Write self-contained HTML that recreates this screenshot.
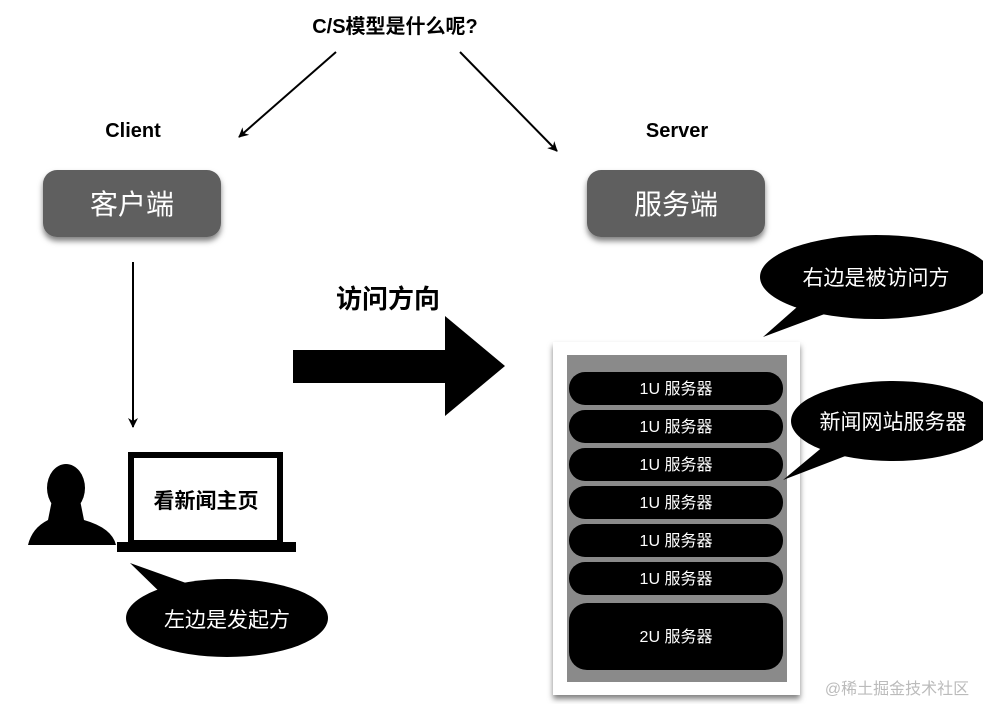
<!DOCTYPE html>
<html><head><meta charset="utf-8"><style>
html,body{margin:0;padding:0;background:#fff;}
svg text{font-family:"Liberation Sans","Noto Sans CJK SC",sans-serif;}
</style></head><body>
<svg width="983" height="704" viewBox="0 0 983 704" xmlns="http://www.w3.org/2000/svg">
<defs>
<filter id="sh" x="-20%" y="-20%" width="140%" height="160%"><feDropShadow dx="0" dy="4" stdDeviation="3" flood-color="#000" flood-opacity="0.5"/></filter>
<marker id="ah" markerWidth="10" markerHeight="10" refX="9" refY="5" orient="auto" markerUnits="userSpaceOnUse"><path d="M0,0 L10,5 L0,10 L3,5 z" fill="#000"/></marker>
</defs>
<text x="395" y="33" font-size="20" font-weight="bold" text-anchor="middle">C/S模型是什么呢?</text>
<line x1="336" y1="52" x2="239" y2="137" stroke="#000" stroke-width="2" marker-end="url(#ah)"/>
<line x1="460" y1="52" x2="557" y2="151" stroke="#000" stroke-width="2" marker-end="url(#ah)"/>
<text x="133" y="137" font-size="20" font-weight="bold" text-anchor="middle">Client</text>
<text x="677" y="137" font-size="20" font-weight="bold" text-anchor="middle">Server</text>
<rect x="43" y="170" width="178" height="67" rx="14" fill="#5f5f5f" filter="url(#sh)"/>
<text x="132" y="214" font-size="28" fill="#fff" text-anchor="middle">客户端</text>
<rect x="587" y="170" width="178" height="67" rx="14" fill="#5f5f5f" filter="url(#sh)"/>
<text x="676" y="214" font-size="28" fill="#fff" text-anchor="middle">服务端</text>
<line x1="133" y1="262" x2="133" y2="427" stroke="#000" stroke-width="2" marker-end="url(#ah)"/>
<text x="388" y="308" font-size="26" font-weight="bold" text-anchor="middle">访问方向</text>
<polygon points="293,350 445,350 445,316 505,366 445,416 445,383 293,383" fill="#000"/>
<!-- person -->
<ellipse cx="66" cy="488" rx="19" ry="24" fill="#000"/>
<path d="M52,500 L80,500 L84,520 Q112,528 116,545 L28,545 Q32,528 48,520 z" fill="#000"/>
<!-- laptop -->
<rect x="131" y="455" width="149" height="88" fill="none" stroke="#000" stroke-width="6"/>
<rect x="117" y="542" width="179" height="10" fill="#000"/>
<text x="206" y="508" font-size="21" font-weight="bold" text-anchor="middle">看新闻主页</text>
<!-- left bubble -->
<path d="M130,563 L200,588 L170,602 z" fill="#000"/>
<ellipse cx="227" cy="618" rx="101" ry="39" fill="#000"/>
<text x="227" y="627" font-size="21" fill="#fff" text-anchor="middle">左边是发起方</text>
<!-- rack -->
<rect x="553" y="342" width="247" height="353" fill="#fff" filter="url(#sh)"/>
<rect x="567" y="355" width="220" height="327" fill="#8a8a8a"/>
<g fill="#000">
<rect x="569" y="372" width="214" height="33" rx="16"/>
<rect x="569" y="410" width="214" height="33" rx="16"/>
<rect x="569" y="448" width="214" height="33" rx="16"/>
<rect x="569" y="486" width="214" height="33" rx="16"/>
<rect x="569" y="524" width="214" height="33" rx="16"/>
<rect x="569" y="562" width="214" height="33" rx="16"/>
<rect x="569" y="603" width="214" height="67" rx="18"/>
</g>
<g fill="#fff" font-size="16" text-anchor="middle">
<text x="676" y="394">1U 服务器</text>
<text x="676" y="432">1U 服务器</text>
<text x="676" y="470">1U 服务器</text>
<text x="676" y="508">1U 服务器</text>
<text x="676" y="546">1U 服务器</text>
<text x="676" y="584">1U 服务器</text>
<text x="676" y="642">2U 服务器</text>
</g>
<!-- right bubbles -->
<path d="M763,337 L805,300 L830,312 z" fill="#000"/>
<ellipse cx="876" cy="277" rx="116" ry="42" fill="#000"/>
<text x="876" y="285" font-size="21" fill="#fff" text-anchor="middle">右边是被访问方</text>
<path d="M783,480 L825,445 L848,455 z" fill="#000"/>
<ellipse cx="893" cy="421" rx="102" ry="40" fill="#000"/>
<text x="893" y="429" font-size="21" fill="#fff" text-anchor="middle">新闻网站服务器</text>
<text x="897" y="694" font-size="16" fill="#bbb" text-anchor="middle" font-family="Liberation Serif, Noto Serif CJK SC, serif">@稀土掘金技术社区</text>
</svg>
</body></html>
